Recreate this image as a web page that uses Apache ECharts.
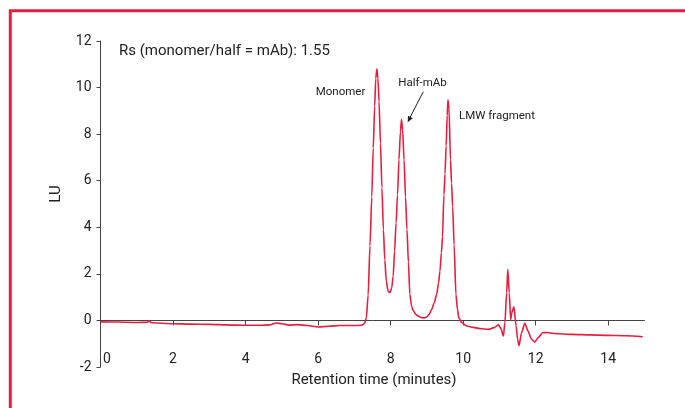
<!DOCTYPE html>
<html>
<head>
<meta charset="utf-8">
<script src="https://cdn.jsdelivr.net/npm/echarts@6/dist/echarts.min.js"></script>
<style>
    html, body { margin: 0; padding: 0; background: #fff; }
    #main { width: 685px; height: 408px; }
</style>
</head>
<body>
<div id="main"></div>
<script>

// retention time (minutes) and detector signal (LU)
var times = [
    0, 0.5, 1.0, 1.3, 1.34, 1.4, 2.0, 2.5, 3.0, 3.5, 4.0, 4.4, 4.65, 4.85, 5.0, 5.2, 5.45, 5.7, 6.0, 6.3, 6.6, 7.0, 7.2,
    7.28, 7.33, 7.38, 7.43, 7.48, 7.52, 7.56, 7.59, 7.62, 7.65, 7.68, 7.72, 7.76, 7.80, 7.84, 7.88, 7.93, 7.98,
    8.03, 8.07, 8.11, 8.15, 8.19, 8.23, 8.27, 8.30, 8.33, 8.37, 8.41, 8.45, 8.49, 8.53, 8.58, 8.63, 8.70, 8.76,
    8.85, 8.92, 8.99, 9.06, 9.13, 9.20, 9.27, 9.32, 9.36, 9.40, 9.43, 9.47, 9.50, 9.53, 9.56, 9.58, 9.61, 9.65,
    9.68, 9.71, 9.75, 9.80, 9.84, 9.88, 9.96, 10.10, 10.28, 10.5, 10.7, 10.85, 10.97, 11.04, 11.11, 11.15, 11.20,
    11.23, 11.27, 11.31, 11.34, 11.40, 11.46, 11.50, 11.54, 11.61, 11.70, 11.79, 11.88, 11.97, 12.07, 12.19, 12.3,
    12.5, 13.0, 13.5, 14.0, 14.5, 14.95
];
var signal = [
    -0.06, -0.07, -0.09, -0.08, -0.02, -0.10, -0.14, -0.16, -0.17, -0.19, -0.21, -0.21, -0.19, -0.11, -0.14, -0.20, -0.18, -0.22, -0.28, -0.25, -0.22, -0.22, -0.21,
    -0.13, 0.10, 1.1, 3.2, 5.3, 7.4, 9.2, 10.4, 10.8, 10.4, 9.4, 7.6, 5.7, 3.9, 2.6, 1.7, 1.25, 1.19,
    1.4, 1.9, 3.0, 4.2, 5.4, 6.9, 8.1, 8.63, 8.2, 6.9, 5.3, 3.9, 2.5, 1.12, 0.6, 0.4, 0.25, 0.19,
    0.12, 0.11, 0.14, 0.25, 0.47, 0.75, 1.12, 1.6, 2.12, 2.9, 3.6, 5.4, 6.3, 7.5, 8.8, 9.48, 9.1, 6.9,
    5.9, 4.9, 3.26, 1.12, 0.5, 0.11, -0.10, -0.24, -0.30, -0.36, -0.38, -0.31, -0.19, -0.35, -0.67, -0.10, 1.19,
    2.2, 1.19, 0.04, 0.33, 0.58, -0.24, -0.80, -1.08, -0.53, -0.12, -0.46, -0.80, -0.93, -0.74, -0.53, -0.52,
    -0.56, -0.60, -0.62, -0.64, -0.66, -0.70
];

var xTicks = [0, 2, 4, 6, 8, 10, 12, 14];
var yTicks = [-2, 0, 2, 4, 6, 8, 10, 12];

var titleText = 'Rs (monomer/half = mAb): 1.55';
var peakNames = ['Monomer', 'Half-mAb', 'LMW fragment'];

var fontName = "Roboto, 'Liberation Sans', sans-serif";
var red = '#e91e3f';
var axisCol = '#444';
var textCol = '#222';

var seriesData = [];
for (var i = 0; i < times.length; i++) {
    seriesData.push([times[i], signal[i]]);
}

var myChart = echarts.init(document.getElementById('main'), null, {renderer: 'canvas'});

var option = {
    animation: false,
    backgroundColor: '#fff',
    grid: {left: 100.5, right: 40.5, top: 41, bottom: 41, outerBoundsMode: 'none', containLabel: false},
    xAxis: {
        type: 'value',
        min: 0,
        max: 15,
        interval: 2,
        splitLine: {show: false},
        axisLine: {onZero: true, lineStyle: {color: axisCol, width: 1}},
        axisTick: {show: true, inside: false, length: 5, customValues: xTicks, lineStyle: {color: axisCol}},
        axisLabel: {
            customValues: xTicks,
            // labels sit just above the bottom of the grid, under the zero line
            margin: -15,
            color: textCol,
            fontSize: 14,
            fontFamily: fontName,
            formatter: function (v) {
                if (v === 0) return '{z|0}';
                return v;
            },
            rich: {
                z: {fontSize: 14, fontFamily: fontName, color: textCol, padding: [0, 0, 0, 13]}
            }
        }
    },
    yAxis: {
        type: 'value',
        min: -2,
        max: 12,
        interval: 2,
        splitLine: {show: false},
        axisLine: {show: true, lineStyle: {color: axisCol, width: 1}},
        axisTick: {show: true, length: 4, customValues: yTicks, lineStyle: {color: axisCol}},
        axisLabel: {margin: 9, customValues: yTicks, color: textCol, fontSize: 14, fontFamily: fontName}
    },
    series: [{
        type: 'line',
        data: seriesData,
        showSymbol: false,
        smooth: 0.25,
        smoothMonotone: 'x',
        lineStyle: {color: red, width: 1.6},
        z: 3
    }],
    graphic: [
        // frame
        {type: 'rect', shape: {x: 10.3, y: 10.7, width: 700, height: 420}, style: {fill: 'none', stroke: red, lineWidth: 3}, silent: true},
        {type: 'text', x: 119, y: 51.5, style: {text: titleText, fontSize: 15, fontFamily: fontName, fill: textCol, verticalAlign: 'middle'}},
        {type: 'text', x: 56.5, y: 194, rotation: Math.PI / 2, style: {text: 'LU', fontSize: 15, fontFamily: fontName, fill: textCol, align: 'center', verticalAlign: 'middle'}},
        {type: 'text', x: 374, y: 380.5, style: {text: 'Retention time (minutes)', fontSize: 15, fontFamily: fontName, fill: textCol, align: 'center', verticalAlign: 'middle'}},
        {type: 'text', x: 315.7, y: 92.5, style: {text: peakNames[0], fontSize: 11.5, fontFamily: fontName, fill: textCol, verticalAlign: 'middle'}},
        {type: 'text', x: 398.3, y: 83.5, style: {text: peakNames[1], fontSize: 11.5, fontFamily: fontName, fill: textCol, verticalAlign: 'middle'}},
        {type: 'text', x: 459, y: 116.5, style: {text: peakNames[2], fontSize: 11.5, fontFamily: fontName, fill: textCol, verticalAlign: 'middle'}},
        // arrow to half-mAb peak
        {type: 'line', shape: {x1: 423.3, y1: 91.7, x2: 410, y2: 117.5}, style: {stroke: textCol, lineWidth: 1}},
        {type: 'polygon', shape: {points: [[407.7, 122.3], [412.8, 118.2], [408.0, 115.7]]}, style: {fill: textCol}}
    ]
};

myChart.setOption(option);

</script>
</body>
</html>
